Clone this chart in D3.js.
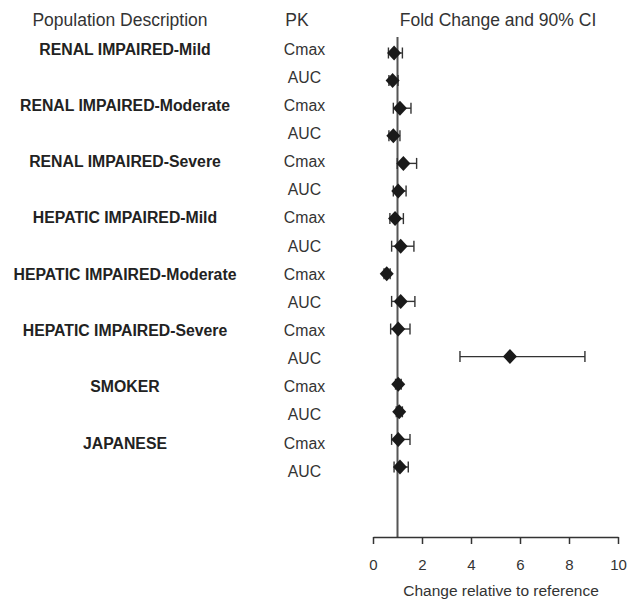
<!DOCTYPE html>
<html>
<head>
<meta charset="utf-8">
<script src="https://cdn.jsdelivr.net/npm/d3@7"></script>
<style>
    body { margin: 0; background: #fff; }
    text { font-family: "Liberation Sans", Arial, sans-serif; fill: #333; }
</style>
</head>
<body>
<svg id="SVGforest" width="629" height="599"></svg>
<script>
"use strict";

/** 人群名称（每个占两行：Cmax / AUC） */
const populations = [
    "RENAL IMPAIRED-Mild", "RENAL IMPAIRED-Moderate", "RENAL IMPAIRED-Severe",
    "HEPATIC IMPAIRED-Mild", "HEPATIC IMPAIRED-Moderate", "HEPATIC IMPAIRED-Severe",
    "SMOKER", "JAPANESE"
];
/** PK 参数 */
const pkParams = ["Cmax", "AUC"];
/** 倍数变化（点估计），按行顺序 */
const foldChange = [0.86, 0.80, 1.10, 0.83, 1.24, 1.03, 0.90, 1.13, 0.56, 1.13, 1.03, 5.59, 1.03, 1.07, 1.03, 1.10];
/** 90% CI 下限 */
const ciLower = [0.63, 0.65, 0.83, 0.65, 0.99, 0.83, 0.69, 0.76, 0.45, 0.76, 0.72, 3.55, 0.92, 0.95, 0.76, 0.86];
/** 90% CI 上限 */
const ciUpper = [1.20, 1.02, 1.55, 1.10, 1.78, 1.35, 1.24, 1.67, 0.70, 1.71, 1.51, 8.65, 1.15, 1.20, 1.51, 1.44];
/** x 轴刻度 */
const xTicks = [0, 2, 4, 6, 8, 10];
/** 参考值 */
const reference = 1;

/** 行数据 */
const rows = [];
populations.forEach((p, i) => {
    pkParams.forEach((k, j) => {
        const idx = i * pkParams.length + j;
        rows.push({
            idx: idx,
            population: j === 0 ? p : "",
            pk: k,
            value: foldChange[idx],
            lo: ciLower[idx],
            hi: ciUpper[idx]
        });
    });
});

const SVG = d3.select("#SVGforest");

/** x 比例尺 */
const x = d3.scaleLinear().domain([0, 10]).range([373, 618]);
/** 文本行的 y 比例尺 */
const labelY = d3.scalePoint().domain(rows.map(d => d.idx)).range([49, 471]);
/** 图形标记的 y 比例尺 */
const markY = d3.scalePoint().domain(rows.map(d => d.idx)).range([53, 467]);
const axisY = 537;

// 表头
SVG.append("g")
    .selectAll("text")
    .data([
        { t: "Population Description", x: 120, anchor: "middle" },
        { t: "PK", x: 297, anchor: "middle" },
        { t: "Fold Change and 90% CI", x: 498, anchor: "middle" }
    ])
    .enter()
    .append("text")
    .attr("x", d => d.x)
    .attr("y", 26)
    .attr("text-anchor", d => d.anchor)
    .style("font-size", "17.5px")
    .text(d => d.t);

// 人群标签
SVG.append("g")
    .selectAll("text")
    .data(rows.filter(d => d.population !== ""))
    .enter()
    .append("text")
    .attr("x", 125)
    .attr("y", d => labelY(d.idx))
    .attr("dy", "0.36em")
    .attr("text-anchor", "middle")
    .style("font-size", "15.8px")
    .style("font-weight", "bold")
    .style("fill", "#222")
    .text(d => d.population);

// PK 标签
SVG.append("g")
    .selectAll("text")
    .data(rows)
    .enter()
    .append("text")
    .attr("x", 304.5)
    .attr("y", d => labelY(d.idx))
    .attr("dy", "0.36em")
    .attr("text-anchor", "middle")
    .style("font-size", "15.8px")
    .text(d => d.pk);

// 参考线
SVG.append("line")
    .attr("x1", x(reference)).attr("x2", x(reference))
    .attr("y1", 37).attr("y2", axisY)
    .style("stroke", "#555")
    .style("stroke-width", 2);

// x 轴
const axis = SVG.append("g")
    .attr("transform", "translate(0," + axisY + ")")
    .call(d3.axisBottom(x).tickValues(xTicks).tickSize(7).tickPadding(15).tickSizeOuter(0));
axis.select(".domain").style("stroke", "#333").style("stroke-width", 1.5);
axis.selectAll(".tick line").style("stroke", "#333").style("stroke-width", 1.5);
axis.selectAll(".tick text")
    .style("font-size", "15px")
    .style("font-family", "\"Liberation Sans\", Arial, sans-serif")
    .style("fill", "#333");

// 轴标题
SVG.append("text")
    .attr("x", 501)
    .attr("y", 596)
    .attr("text-anchor", "middle")
    .style("font-size", "15.5px")
    .text("Change relative to reference");

// 置信区间
const ci = SVG.append("g").selectAll("g").data(rows).enter().append("g");
ci.append("line")
    .attr("x1", d => x(d.lo)).attr("x2", d => x(d.hi))
    .attr("y1", d => markY(d.idx)).attr("y2", d => markY(d.idx))
    .style("stroke", "#333").style("stroke-width", 1.4);
ci.append("line")
    .attr("x1", d => x(d.lo)).attr("x2", d => x(d.lo))
    .attr("y1", d => markY(d.idx) - 5.5).attr("y2", d => markY(d.idx) + 5.5)
    .style("stroke", "#333").style("stroke-width", 1.4);
ci.append("line")
    .attr("x1", d => x(d.hi)).attr("x2", d => x(d.hi))
    .attr("y1", d => markY(d.idx) - 5.5).attr("y2", d => markY(d.idx) + 5.5)
    .style("stroke", "#333").style("stroke-width", 1.4);

// 菱形点估计
SVG.append("g")
    .selectAll("path")
    .data(rows)
    .enter()
    .append("path")
    .attr("d", d => {
        const cx = x(d.value), cy = markY(d.idx);
        return "M" + (cx - 7) + "," + cy + "L" + cx + "," + (cy - 7.5)
            + "L" + (cx + 7) + "," + cy + "L" + cx + "," + (cy + 7.5) + "Z";
    })
    .style("fill", "#1a1a1a");
</script>
</body>
</html>
